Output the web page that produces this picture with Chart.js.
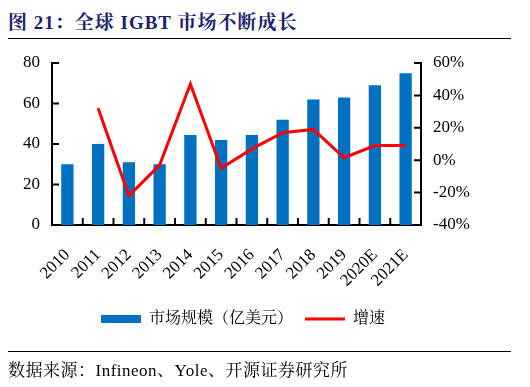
<!DOCTYPE html>
<html>
<head>
<meta charset="utf-8">
<script src="https://cdn.jsdelivr.net/npm/chart.js@4/dist/chart.umd.min.js"></script>
<style>
    body { margin: 0; background: #fff; }
    #wrap { position: relative; width: 530px; height: 387px; }
    #chart { position: absolute; left: 0; top: 0; }
    .title {
        position: absolute; left: 8px; top: 7px;
        font: bold 19px 'Liberation Serif', 'Noto Serif CJK SC', 'Noto Sans CJK SC', serif;
        letter-spacing: 1px;
        color: #1b1f6e;
    }
    .rule { position: absolute; left: 8px; width: 503px; height: 0; border-top: 1.5px solid #000; }
    .source {
        position: absolute; left: 8px; top: 356px;
        font: 17px 'Liberation Serif', 'Noto Serif CJK SC', 'Noto Sans CJK SC', serif;
        letter-spacing: 0.5px;
        color: #000;
    }
</style>
</head>
<body>
<div id="wrap">
    <div class="title">图 21：全球 IGBT 市场不断成长</div>
    <div class="rule" style="top:38px"></div>
    <canvas id="chart" width="530" height="387"></canvas>
    <div class="rule" style="top:351px"></div>
    <div class="source">数据来源：Infineon、Yole、开源证券研究所</div>
</div>
<script>
    // Data
    const years = ['2010', '2011', '2012', '2013', '2014', '2015', '2016', '2017', '2018', '2019', '2020E', '2021E'];
    const marketSize = [30, 40, 31, 30, 44.5, 42, 44.5, 52, 62, 63, 69, 75];
    const growthRate = [null, 32, -22, -3, 47, -5, 7, 17, 19, 1.5, 9, 9];
    const leftTicks = [0, 20, 40, 60, 80];
    const rightTicks = [-40, -20, 0, 20, 40, 60];

    const serif = "'Liberation Serif', 'Times New Roman', serif";
    const cjk = "'Liberation Serif', 'Noto Serif CJK SC', 'Noto Sans CJK SC', serif";

    // tick marks drawn on the inside of the axes
    const innerTicks = {
        id: 'innerTicks',
        afterDraw(chart) {
            const ctx = chart.ctx;
            const area = chart.chartArea;
            const len = 7;
            ctx.save();
            ctx.strokeStyle = '#000';
            ctx.lineWidth = 2;
            ctx.beginPath();
            leftTicks.forEach(v => {
                const y = chart.scales.y.getPixelForValue(v);
                ctx.moveTo(area.left, y);
                ctx.lineTo(area.left + len, y);
            });
            rightTicks.forEach(v => {
                const y = chart.scales.y1.getPixelForValue(v);
                ctx.moveTo(area.right, y);
                ctx.lineTo(area.right - len, y);
            });
            const step = (area.right - area.left) / years.length;
            for (let i = 1; i < years.length; i++) {
                const x = area.left + step * i;
                ctx.moveTo(x, area.bottom);
                ctx.lineTo(x, area.bottom - len);
            }
            ctx.stroke();
            ctx.restore();
        }
    };

    const ctx = document.getElementById('chart').getContext('2d');

    new Chart(ctx, {
        type: 'bar',
        data: {
            labels: years,
            datasets: [
                {
                    type: 'bar',
                    label: '市场规模（亿美元）',
                    data: marketSize,
                    backgroundColor: '#0070c0',
                    categoryPercentage: 1,
                    barPercentage: 0.4,
                    yAxisID: 'y',
                    order: 1
                },
                {
                    type: 'line',
                    label: '增速',
                    data: growthRate,
                    borderColor: '#ff0000',
                    borderWidth: 3,
                    pointRadius: 0,
                    tension: 0,
                    yAxisID: 'y1',
                    order: 0
                }
            ]
        },
        options: {
            responsive: false,
            animation: false,
            layout: {
                padding: { left: 0, right: 44, top: 63, bottom: 50 }
            },
            scales: {
                x: {
                    grid: { display: false, drawTicks: false },
                    border: { display: true, color: '#000', width: 2 },
                    ticks: {
                        color: '#000',
                        font: { family: serif, size: 17 },
                        autoSkip: false,
                        maxRotation: 45,
                        minRotation: 45,
                        padding: 20
                    },
                    afterFit: scale => { scale.height = 74; }
                },
                y: {
                    position: 'left',
                    min: 0,
                    max: 80,
                    afterBuildTicks: scale => { scale.ticks = leftTicks.map(v => ({ value: v })); },
                    grid: { display: false, drawTicks: false },
                    border: { display: true, color: '#000', width: 2 },
                    ticks: {
                        color: '#000',
                        font: { family: serif, size: 17 },
                        padding: 12
                    },
                    afterFit: scale => { scale.width = 52; }
                },
                y1: {
                    position: 'right',
                    min: -40,
                    max: 60,
                    afterBuildTicks: scale => { scale.ticks = rightTicks.map(v => ({ value: v })); },
                    grid: { display: false, drawTicks: false },
                    border: { display: true, color: '#000', width: 2 },
                    ticks: {
                        color: '#000',
                        font: { family: serif, size: 17 },
                        padding: 12,
                        callback: value => value + '%'
                    },
                    afterFit: scale => { scale.width = 65; }
                }
            },
            plugins: {
                tooltip: { enabled: false },
                legend: {
                    position: 'bottom',
                    labels: {
                        color: '#000',
                        font: { family: cjk, size: 16 },
                        usePointStyle: true,
                        pointStyleWidth: 40,
                        boxHeight: 8,
                        padding: 12,
                        generateLabels: function (chart) {
                            return chart.data.datasets.map((ds, i) => ({
                                text: ds.label,
                                datasetIndex: i,
                                fillStyle: ds.type === 'bar' ? ds.backgroundColor : ds.borderColor,
                                strokeStyle: ds.type === 'bar' ? ds.backgroundColor : ds.borderColor,
                                lineWidth: ds.type === 'bar' ? 0 : 3,
                                pointStyle: ds.type === 'bar' ? 'rect' : 'line',
                                fontColor: '#000',
                                hidden: false
                            }));
                        }
                    }
                }
            }
        },
        plugins: [innerTicks]
    });
</script>
</body>
</html>
